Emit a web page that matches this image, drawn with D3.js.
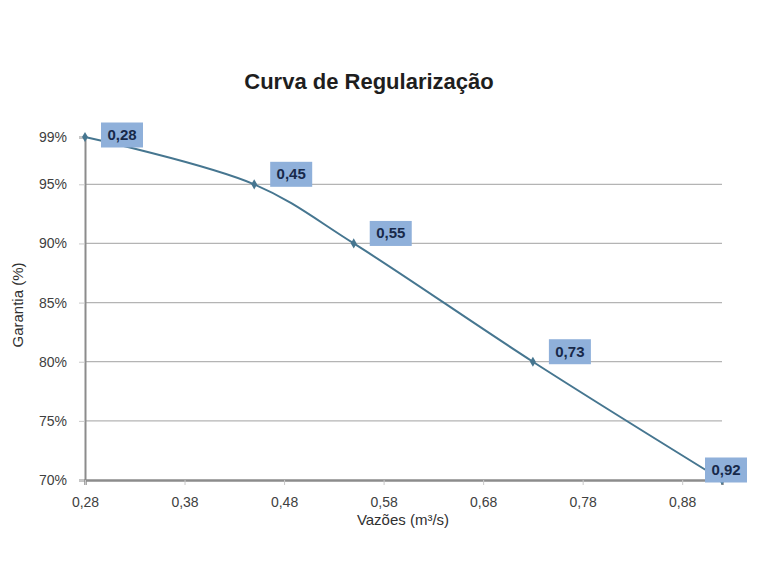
<!DOCTYPE html>
<html>
<head>
<meta charset="utf-8">
<script src="https://cdn.jsdelivr.net/npm/d3@7"></script>
<style>
  body { margin: 0; background: #fff; }
  text { font-family: "Liberation Sans", Arial, sans-serif; }
</style>
</head>
<body>
<div id="chart"></div>
<script>
// data
var vazoes = [0.28, 0.45, 0.55, 0.73, 0.92];
var garantias = [99, 95, 90, 80, 70];
var xTicks = [0.28, 0.38, 0.48, 0.58, 0.68, 0.78, 0.88];
var yTicks = [70, 75, 80, 85, 90, 95, 99];

var width = 760, height = 574;
var plot = { left: 85, right: 722, top: 137, bottom: 480 };

var fmtX = function (d) { return d3.format(".2f")(d).replace(".", ","); };

var svg = d3.select("#chart").append("svg")
    .attr("width", width)
    .attr("height", height);

var x = d3.scaleLinear().domain([0.28, 0.92]).range([plot.left, plot.right]);
var y = d3.scaleLinear().domain([70, 99]).range([plot.bottom, plot.top]);

// gridlines
svg.append("g")
    .selectAll("line")
    .data(yTicks.filter(function (d) { return d > 70 && d < 99; }))
    .enter().append("line")
    .attr("x1", plot.left).attr("x2", plot.right)
    .attr("y1", function (d) { return y(d); })
    .attr("y2", function (d) { return y(d); })
    .attr("stroke", "#b4b4b4")
    .attr("stroke-width", 1.2);

// y axis
var yAxis = svg.append("g")
    .attr("transform", "translate(" + plot.left + ",0)")
    .call(d3.axisLeft(y).tickValues(yTicks).tickSize(6).tickPadding(12)
        .tickFormat(function (d) { return d + "%"; }));
yAxis.select(".domain").attr("stroke", "#8c8c8c").attr("stroke-width", 2);
yAxis.selectAll(".tick line").attr("stroke", "#c8c8c8");
yAxis.selectAll(".tick text")
    .attr("fill", "#404040")
    .style("font-size", "14px");

// x axis
var xAxis = svg.append("g")
    .attr("transform", "translate(0," + plot.bottom + ")")
    .call(d3.axisBottom(x).tickValues(xTicks).tickSize(5).tickPadding(12).tickFormat(fmtX));
xAxis.select(".domain").attr("stroke", "#8c8c8c").attr("stroke-width", 2.5);
xAxis.selectAll(".tick line").attr("stroke", "#c8c8c8");
xAxis.selectAll(".tick text")
    .attr("fill", "#404040")
    .style("font-size", "14px");

// curve
var points = vazoes.map(function (v, i) { return { x: v, y: garantias[i] }; });

var line = d3.line()
    .x(function (d) { return x(d.x); })
    .y(function (d) { return y(d.y); })
    .curve(d3.curveCatmullRom.alpha(0.5));

svg.append("path")
    .datum(points)
    .attr("d", line)
    .attr("fill", "none")
    .attr("stroke", "#467690")
    .attr("stroke-width", 2);

svg.selectAll(".marker")
    .data(points)
    .enter().append("path")
    .attr("class", "marker")
    .attr("transform", function (d) { return "translate(" + x(d.x) + "," + y(d.y) + ")"; })
    .attr("d", d3.symbol().type(d3.symbolDiamond).size(30))
    .attr("fill", "#467690");

// data labels
var boxW = 42, boxH = 25;
var labels = svg.selectAll(".lbl")
    .data(points)
    .enter().append("g")
    .attr("class", "lbl")
    .attr("transform", function (d) {
        var bx = Math.min(x(d.x) + 16, 747 - boxW);
        var cy = Math.max(y(d.y) - 10, 135);
        return "translate(" + bx + "," + (cy - boxH / 2) + ")";
    });
labels.append("rect")
    .attr("width", boxW).attr("height", boxH)
    .attr("fill", "#8fb0da");
labels.append("text")
    .attr("x", boxW / 2).attr("y", boxH / 2 + 5)
    .attr("text-anchor", "middle")
    .attr("fill", "#17294a")
    .style("font-size", "15px")
    .style("font-weight", "bold")
    .text(function (d) { return fmtX(d.x); });

// titles
svg.append("text")
    .attr("x", 369).attr("y", 89)
    .attr("text-anchor", "middle")
    .attr("fill", "#1e1e1e")
    .style("font-size", "22px")
    .style("font-weight", "bold")
    .text("Curva de Regularização");

svg.append("text")
    .attr("transform", "translate(23,305) rotate(-90)")
    .attr("text-anchor", "middle")
    .attr("fill", "#303030")
    .style("font-size", "15px")
    .text("Garantia (%)");

svg.append("text")
    .attr("x", 403).attr("y", 525)
    .attr("text-anchor", "middle")
    .attr("fill", "#303030")
    .style("font-size", "15px")
    .text("Vazões (m³/s)");
</script>
</body>
</html>
